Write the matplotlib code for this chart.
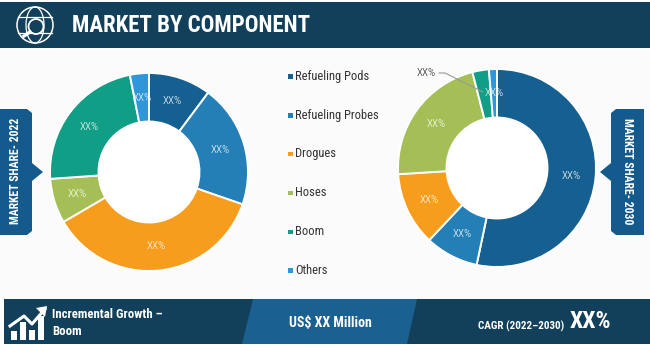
#!/usr/bin/env python3
import matplotlib
matplotlib.use("Agg")
import matplotlib.pyplot as plt
from matplotlib.patches import Circle, Ellipse, Polygon, Rectangle

components = ["Refueling Pods", "Refueling Probes", "Drogues", "Hoses", "Boom", "Others"]
share_2022 = [10.2, 20.1, 36.3, 7.3, 23.0, 3.1]
share_2030 = [53.3, 8.7, 12.0, 22.0, 2.7, 1.3]
colors = ["#156091", "#237fb5", "#f79d1e", "#a5bf56", "#109e86", "#2f96d9"]

title = "MARKET BY COMPONENT"
footer_growth = ["Incremental Growth \u2013", "Boom"]
footer_value = "US$ XX Million"
footer_cagr = "CAGR (2022\u20132030)"
footer_pct = "XX%"

NAVY = "#123f5a"
MID = "#1a6090"
TAG = "#145a8c"
BG = "#fbfbfb"
W, H = 650, 351

plt.rcParams["font.family"] = ["Roboto Condensed", "Liberation Sans", "DejaVu Sans"]

fig = plt.figure(figsize=(6.5, 3.51), dpi=100, facecolor="white")

# page layer in pixel coordinates
page = fig.add_axes([0, 0, 1, 1])
page.set_xlim(0, W)
page.set_ylim(H, 0)
page.axis("off")


def donut(cx, cy, r, values):
    ax = fig.add_axes([(cx - r * 1.02) / W, 1 - (cy + r * 1.02) / H, r * 2.04 / W, r * 2.04 / H])
    wedges, _, pcts = ax.pie(
        values, colors=colors, startangle=90, counterclock=False, radius=1,
        wedgeprops=dict(width=0.49, edgecolor="white", linewidth=1.4),
        autopct=lambda p: "XX%", pctdistance=0.755,
        textprops=dict(color="white", fontsize=8, fontweight="light"),
    )
    ax.set_xlim(-1.02, 1.02)
    ax.set_ylim(-1.02, 1.02)
    ax.add_patch(Circle((0, 0), 0.49, color="white", zorder=0))
    return ax, pcts


page.add_patch(Rectangle((0, 50), W, 249, color=BG, lw=0))

# header
page.add_patch(Rectangle((0, 2), W, 46, color=NAVY, lw=0))
page.text(72, 25.5, title, color="white", fontsize=16.5, fontweight="bold", va="center", ha="left")
gx, gy = 35, 25
page.add_patch(Circle((gx, gy), 18, fill=False, ec="white", lw=1.1))
page.add_patch(Ellipse((gx, gy), 18, 36, fill=False, ec="white", lw=0.9))
page.plot([gx - 17, gx + 17], [gy - 8, gy - 8], color="white", lw=0.9)
page.plot([gx - 17, gx + 17], [gy + 8, gy + 8], color="white", lw=0.9)
page.add_patch(Circle((gx + 1, gy + 1.5), 7.5, fc=NAVY, ec="white", lw=1.3, zorder=3))
page.plot([gx - 5, gx - 11], [gy + 7, gy + 11], color="white", lw=2.4, zorder=4)

# side tags
left_tag = [(0, 109), (27, 109), (32, 113), (32, 163), (43, 172), (32, 181), (32, 231), (27, 235), (0, 235)]
right_tag = [(644, 109), (616, 109), (611, 113), (611, 163), (600, 172), (611, 181), (611, 231), (616, 235), (644, 235)]
page.add_patch(Polygon(left_tag, color=TAG, lw=0))
page.add_patch(Polygon(right_tag, color=TAG, lw=0))
page.text(16, 171, "MARKET SHARE- 2022", color="white", fontsize=8.5, fontweight="bold",
          rotation=90, ha="center", va="center")
page.text(627, 171, "MARKET SHARE- 2030", color="white", fontsize=8.5, fontweight="bold",
          rotation=270, ha="center", va="center")

# legend
for i, (name, c) in enumerate(zip(components, colors)):
    y = 76.3 + i * 38.8
    page.add_patch(Rectangle((288, y - 2), 4.5, 4.5, color=c, lw=0))
    page.text(295, y, name, color="#333333", fontsize=9, va="center", ha="left")

# footer
page.add_patch(Rectangle((4, 299), W - 4, 45, color=NAVY, lw=0))
page.add_patch(Polygon([(253, 299), (417, 299), (407, 344), (242, 344)], color=MID, lw=0))
page.text(52, 314.5, footer_growth[0], color="white", fontsize=9.2, fontweight="bold", va="center")
page.text(52, 331.5, footer_growth[1], color="white", fontsize=9.2, fontweight="bold", va="center")
page.text(330, 323, footer_value, color="white", fontsize=10, fontweight="bold", va="center", ha="center")
page.text(478, 326, footer_cagr, color="white", fontsize=8, fontweight="bold", va="center")
page.text(570, 321, footer_pct, color="white", fontsize=17, fontweight="bold", va="center")

# growth icon
for x0, top in zip((11, 20, 29, 38), (331, 322, 330, 316)):
    page.add_patch(Rectangle((x0, top), 6, 340 - top, color="white", lw=0))
page.plot([10, 24, 32, 45], [326, 316, 324, 309], color="white", lw=2.2)
page.add_patch(Polygon([(36, 308), (47, 306), (45, 317)], color="white", lw=0))

# donuts
ax22, pcts22 = donut(149, 172, 99, share_2022)
ax30, pcts30 = donut(497, 168, 99, share_2030)

# the small boom share of 2030 sits outside with a leader line
pcts30[4].set_position(((426 - 497) / 99, (168 - 73) / 99))
pcts30[4].set_color("#222222")
ax30.plot([(439 - 497) / 99, (445 - 497) / 99, (483 - 497) / 99],
          [(168 - 73) / 99, (168 - 73) / 99, (168 - 92) / 99], color="#999999", lw=0.8)

fig.savefig("out.png", dpi=100, facecolor=fig.get_facecolor())
